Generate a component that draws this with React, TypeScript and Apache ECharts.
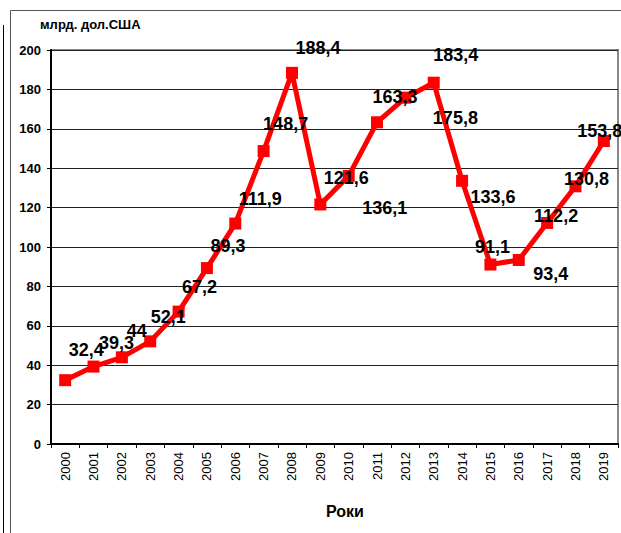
import React, { useEffect, useRef } from "react";
import * as echarts from "echarts";

const years = ["2000","2001","2002","2003","2004","2005","2006","2007","2008","2009","2010","2011","2012","2013","2014","2015","2016","2017","2018","2019"];
const values = [32.4, 39.3, 44, 52.1, 67.2, 89.3, 111.9, 148.7, 188.4, 121.6, 136.1, 163.3, 175.8, 183.4, 133.6, 91.1, 93.4, 112.2, 130.8, 153.8];
const yTicks = { min: 0, max: 200, interval: 20 };
const unitLabel = "млрд. дол.США";
const xAxisTitle = "Роки";

// label placement offsets (layout only)
const labelOffsets: [number, number][] = [
  [21, -30], [23, -24], [15, -26], [18, -24], [21, -25], [21, -22], [25, -25], [22, -27],
  [26, -25], [26, -26], [36, 32], [18, -25], [50, 20], [22, -28], [31, 16], [2, -18],
  [32, 14], [9, -7], [11, -7], [-4, -10],
];

const FONT = "'Liberation Sans', Arial, sans-serif";
const fmt = (v: number) => String(v).replace(".", ",");

export default function App() {
  const ref = useRef<HTMLDivElement>(null);
  useEffect(() => {
    if (!ref.current) return;
    const chart = echarts.init(ref.current, undefined, { renderer: "svg" });
    chart.setOption({
      animation: false,
      backgroundColor: "#fff",
      grid: {
        left: 51, right: 3, top: 50, bottom: 89,
        show: true, borderColor: "#888", borderWidth: 2, backgroundColor: "transparent",
      },
      xAxis: {
        type: "category",
        data: years,
        boundaryGap: true,
        axisLine: { show: true, lineStyle: { color: "#000", width: 2 } },
        axisTick: { show: true, alignWithLabel: false, length: 4, lineStyle: { color: "#000", width: 1 } },
        axisLabel: { rotate: 90, fontSize: 13, color: "#000", fontFamily: FONT, margin: 8 },
        splitLine: { show: false },
      },
      yAxis: {
        type: "value",
        min: yTicks.min, max: yTicks.max, interval: yTicks.interval,
        axisLine: { show: true, lineStyle: { color: "#000", width: 2 } },
        axisTick: { show: true, length: 4, lineStyle: { color: "#000", width: 1 } },
        axisLabel: { fontSize: 13, fontWeight: "bold", color: "#000", fontFamily: FONT, margin: 10 },
        splitLine: { show: true, lineStyle: { color: "#222", width: 1 } },
      },
      series: [
        {
          type: "line",
          data: values.map((v, i) => ({
            value: v,
            label: { offset: labelOffsets[i] },
          })),
          symbol: "rect",
          symbolSize: 12,
          lineStyle: { color: "#ff0000", width: 5 },
          itemStyle: { color: "#ff0000" },
          label: {
            show: true,
            position: "inside",
            formatter: (p: any) => fmt(p.value),
            fontSize: 18,
            fontWeight: "bold",
            color: "#000",
            fontFamily: FONT,
            align: "center",
            verticalAlign: "middle",
          },
          z: 5,
        },
      ],
      graphic: [
        { type: "line", shape: { x1: 3.5, y1: 25, x2: 3.5, y2: 533 }, style: { stroke: "#000", lineWidth: 1 } },
        { type: "line", shape: { x1: 10.5, y1: 10.5, x2: 10.5, y2: 533 }, style: { stroke: "#555", lineWidth: 1 } },
        { type: "line", shape: { x1: 10.5, y1: 10.5, x2: 621, y2: 10.5 }, style: { stroke: "#555", lineWidth: 1 } },
        {
          type: "text", left: 40, top: 18,
          style: { text: unitLabel, fontSize: 13, fontWeight: "bold", fill: "#000", fontFamily: FONT },
        },
        {
          type: "text", x: 345, y: 511,
          style: { text: xAxisTitle, fontSize: 16, fontWeight: "bold", fill: "#000", fontFamily: FONT, align: "center", verticalAlign: "middle" },
        },
      ],
    });
    return () => chart.dispose();
  }, []);
  return <div ref={ref} style={{ position: "fixed", left: 0, top: 0, width: 621, height: 533 }} />;
}
